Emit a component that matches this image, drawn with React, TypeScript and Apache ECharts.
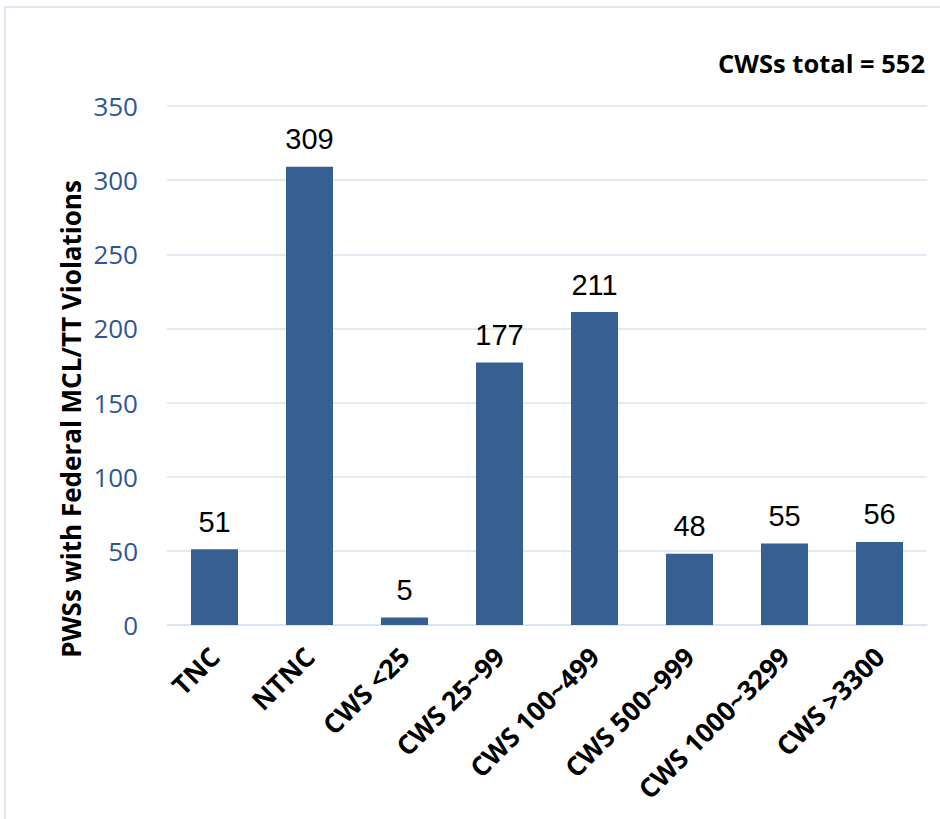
import React, { useEffect, useRef } from "react";
import * as echarts from "echarts";

const categories = ["TNC", "NTNC", "CWS <25", "CWS 25~99", "CWS 100~499", "CWS 500~999", "CWS 1000~3299", "CWS >3300"];
const values = [51, 309, 5, 177, 211, 48, 55, 56];
const yTicks = { min: 0, max: 350, interval: 50 };
const yTitle = "PWSs with Federal MCL/TT Violations";
const note = "CWSs total = 552";

export default function App() {
  const ref = useRef<HTMLDivElement>(null);
  useEffect(() => {
    if (!ref.current) return;
    const chart = echarts.init(ref.current, null, { renderer: "svg" });
    chart.setOption({
      animation: false,
      backgroundColor: "#ffffff",
      grid: { left: 167, right: 13, top: 106, bottom: 194, containLabel: false },
      graphic: [
        {
          type: "rect",
          shape: { x: 5, y: 7, width: 960, height: 840 },
          style: { fill: "none", stroke: "#D6E0EE", lineWidth: 1.5 },
          silent: true,
        },
        {
          type: "text",
          right: 15,
          top: 50,
          style: { text: note, font: "bold 25.5px 'Open Sans'", fill: "#000" },
        },
        {
          type: "text",
          x: 71,
          y: 419,
          rotation: Math.PI / 2,
          style: {
            text: yTitle,
            font: "bold 26px 'Open Sans'",
            fill: "#000",
            align: "center",
            verticalAlign: "middle",
          },
        },
      ],
      xAxis: {
        type: "category",
        data: categories,
        axisLine: { show: true, lineStyle: { color: "#D9E3F1", width: 1.5 } },
        axisTick: { show: false },
        axisLabel: {
          rotate: 45,
          interval: 0,
          margin: 27,
          color: "#000",
          fontFamily: "Open Sans",
          fontWeight: "bold",
          fontSize: 26.5,
        },
      },
      yAxis: {
        type: "value",
        min: yTicks.min,
        max: yTicks.max,
        interval: yTicks.interval,
        axisLine: { show: false },
        axisTick: { show: false },
        splitLine: { lineStyle: { color: "#D9E3F1", width: 1.5 } },
        axisLabel: {
          margin: 29,
          color: "#2F5597",
          fontFamily: "Open Sans",
          fontSize: 26,
        },
      },
      series: [
        {
          type: "bar",
          data: values,
          barWidth: "49.5%",
          itemStyle: { color: "#376092" },
          label: {
            show: true,
            position: "top",
            distance: 13,
            color: "#000",
            fontFamily: "Liberation Sans",
            fontSize: 29,
          },
        },
      ],
    });
    return () => chart.dispose();
  }, []);
  return <div ref={ref} style={{ position: "fixed", left: 0, top: 0, width: 940, height: 819 }} />;
}
